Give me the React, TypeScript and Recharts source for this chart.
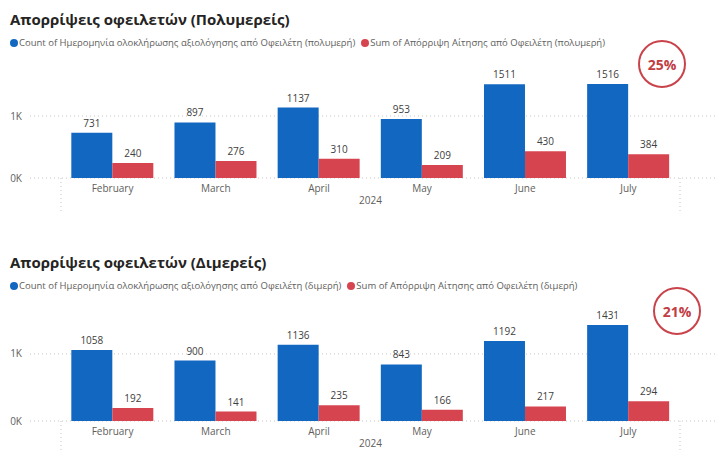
import { BarChart, Bar, XAxis, YAxis, CartesianGrid, LabelList } from "recharts";

const months = ["February", "March", "April", "May", "June", "July"];
const yearLabel = "2024";
const yTicks = [0, 1000];

// Πολυμερείς
const multiCount = [731, 897, 1137, 953, 1511, 1516];
const multiRejected = [240, 276, 310, 209, 430, 384];

// Διμερείς
const biCount = [1058, 900, 1136, 843, 1192, 1431];
const biRejected = [192, 141, 235, 166, 217, 294];

const BLUE = "#1267c0";
const RED = "#d6454f";
const FONT = "'Segoe UI', 'Open Sans', sans-serif";

type PanelProps = {
  top: number;
  title: string;
  countName: string;
  sumName: string;
  counts: number[];
  sums: number[];
  yMax: number;
  circleX: number;
  circleY: number;
};

function fmtK(v: number) {
  return `${Math.round(v / 1000)}K`;
}

function MonthTick(props: any) {
  const { x, y, payload, index, visibleTicksCount } = props;
  const half = payload.offset || 0;
  const axisY = y - 8;
  return (
    <g>
      <text
        x={x}
        y={y}
        dy={6}
        textAnchor="middle"
        fontSize={10}
        fill="#605e5c"
        fontFamily={FONT}
      >
        {payload.value}
      </text>
      {index === 0 && (
        <line
          x1={x - half}
          x2={x - half}
          y1={axisY}
          y2={axisY + 34}
          stroke="#c8c6c4"
          strokeDasharray="1 3"
        />
      )}
      {index === visibleTicksCount - 1 && (
        <line
          x1={x + half}
          x2={x + half}
          y1={axisY}
          y2={axisY + 34}
          stroke="#c8c6c4"
          strokeDasharray="1 3"
        />
      )}
    </g>
  );
}

function Panel(props: PanelProps) {
  const { top, title, countName, sumName, counts, sums, yMax, circleX, circleY } = props;

  const data = months.map((m, i) => ({
    month: m,
    count: counts[i],
    sum: sums[i],
  }));

  const last = data.length - 1;
  const ratio = Math.round((sums[last] / counts[last]) * 100);

  const legendItems = [
    { name: countName, color: BLUE },
    { name: sumName, color: RED },
  ];

  return (
    <div style={{ position: "absolute", top, left: 0, width: 718, height: 226 }}>
      <div
        style={{
          position: "absolute",
          top: 8,
          left: 10,
          fontSize: 15,
          fontWeight: 700,
          color: "#252423",
          fontFamily: FONT,
          lineHeight: "22px",
          whiteSpace: "nowrap",
        }}
      >
        {title}
      </div>
      <div
        style={{
          position: "absolute",
          top: 36,
          left: 10,
          display: "flex",
          gap: 6,
          fontSize: 9.5,
          color: "#605e5c",
          fontFamily: FONT,
          lineHeight: "14px",
          whiteSpace: "nowrap",
        }}
      >
        {legendItems.map((it) => (
          <div key={it.name} style={{ display: "flex", alignItems: "center", gap: 1 }}>
            <span
              style={{
                display: "inline-block",
                width: 8,
                height: 8,
                borderRadius: 4,
                background: it.color,
              }}
            />
            <span>{it.name}</span>
          </div>
        ))}
      </div>

      <div style={{ position: "absolute", top: 0, left: 0 }}>
        <BarChart
          width={718}
          height={226}
          data={data}
          margin={{ top: 72, right: 3, bottom: 18, left: 0 }}
          barCategoryGap="10%"
          barGap={0}
        >
          <CartesianGrid
            vertical={false}
            horizontalValues={yTicks}
            stroke="#c8c6c4"
            strokeDasharray="1 3"
          />
          <XAxis
            dataKey="month"
            height={30}
            axisLine={false}
            tickLine={false}
            padding={{ left: 31, right: 35 }}
            tick={<MonthTick />}
            interval={0}
            label={{
              value: yearLabel,
              position: "insideBottom",
              offset: 4,
              fontSize: 10,
              fill: "#605e5c",
              fontFamily: FONT,
              dx: -2,
            }}
          />
          <YAxis
            width={30}
            domain={[0, yMax]}
            ticks={yTicks}
            tickFormatter={fmtK}
            axisLine={false}
            tickLine={false}
            tick={{ fontSize: 10, fill: "#605e5c", fontFamily: FONT }}
          />
          <Bar dataKey="count" name={countName} fill={BLUE} isAnimationActive={false}>
            <LabelList
              dataKey="count"
              position="top"
              fontSize={10}
              fill="#404040"
              fontFamily={FONT}
              offset={6}
            />
          </Bar>
          <Bar dataKey="sum" name={sumName} fill={RED} isAnimationActive={false}>
            <LabelList
              dataKey="sum"
              position="top"
              fontSize={10}
              fill="#404040"
              fontFamily={FONT}
              offset={6}
            />
          </Bar>
        </BarChart>
      </div>

      <div
        style={{
          position: "absolute",
          left: circleX - 24,
          top: circleY - 24 - top,
          width: 44,
          height: 44,
          borderRadius: "50%",
          border: "2.5px solid #c9434b",
          display: "flex",
          alignItems: "center",
          justifyContent: "center",
          fontFamily: FONT,
          fontWeight: 700,
          fontSize: 14,
          color: "#c23c44",
        }}
      >
        {ratio}%
      </div>
    </div>
  );
}

export default function App() {
  return (
    <div
      style={{
        position: "absolute",
        top: 0,
        left: 0,
        width: 718,
        height: 453,
        background: "#ffffff",
        overflow: "hidden",
      }}
    >
      <Panel
        top={0}
        title="Απορρίψεις οφειλετών (Πολυμερείς)"
        countName="Count of Ημερομηνία ολοκλήρωσης αξιολόγησης από Οφειλέτη (πολυμερή)"
        sumName="Sum of Απόρριψη Αίτησης από Οφειλέτη (πολυμερή)"
        counts={multiCount}
        sums={multiRejected}
        yMax={1710}
        circleX={662}
        circleY={64}
      />
      <Panel
        top={243}
        title="Απορρίψεις οφειλετών (Διμερείς)"
        countName="Count of Ημερομηνία ολοκλήρωσης αξιολόγησης από Οφειλέτη (διμερή)"
        sumName="Sum of Απόρριψη Αίτησης από Οφειλέτη (διμερή)"
        counts={biCount}
        sums={biRejected}
        yMax={1580}
        circleX={677}
        circleY={311}
      />
    </div>
  );
}
